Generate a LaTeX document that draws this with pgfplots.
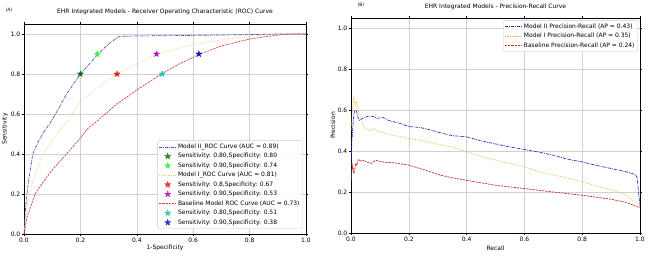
\documentclass[border=0pt]{standalone}
\usepackage{pgfplots}
\pgfplotsset{compat=1.18}
\usepackage{fontspec}
\setmainfont{DejaVu Sans}
\definecolor{rocblue}{HTML}{4556B0}
\definecolor{rocyel}{HTML}{F2CE86}
\definecolor{rocred}{HTML}{D2424F}
\definecolor{prblue}{HTML}{2B2BB5}
\definecolor{prorange}{HTML}{F0AE3C}
\definecolor{prred}{HTML}{C62A2A}
\definecolor{stdkgreen}{HTML}{0A6E0A}
\definecolor{stlime}{HTML}{33EE33}
\definecolor{stred}{HTML}{EE1111}
\definecolor{stmag}{HTML}{B010C0}
\definecolor{stcyan}{HTML}{20BFC0}
\definecolor{stblue}{HTML}{0A0ACC}
\pgfdeclareplotmark{fstar}{%
  \pgfpathmoveto{\pgfqpoint{0pt}{\pgfplotmarksize}}%
  \pgfpathlineto{\pgfqpoint{-0.2245\pgfplotmarksize}{0.309\pgfplotmarksize}}%
  \pgfpathlineto{\pgfqpoint{-0.951\pgfplotmarksize}{0.309\pgfplotmarksize}}%
  \pgfpathlineto{\pgfqpoint{-0.3633\pgfplotmarksize}{-0.118\pgfplotmarksize}}%
  \pgfpathlineto{\pgfqpoint{-0.588\pgfplotmarksize}{-0.809\pgfplotmarksize}}%
  \pgfpathlineto{\pgfqpoint{0pt}{-0.382\pgfplotmarksize}}%
  \pgfpathlineto{\pgfqpoint{0.588\pgfplotmarksize}{-0.809\pgfplotmarksize}}%
  \pgfpathlineto{\pgfqpoint{0.3633\pgfplotmarksize}{-0.118\pgfplotmarksize}}%
  \pgfpathlineto{\pgfqpoint{0.951\pgfplotmarksize}{0.309\pgfplotmarksize}}%
  \pgfpathlineto{\pgfqpoint{0.2245\pgfplotmarksize}{0.309\pgfplotmarksize}}%
  \pgfpathclose
  \pgfusepathqfillstroke}
\newcommand{\fs}{\fontsize{6}{7}\selectfont}
\tikzset{
  dd/.style={dash pattern=on 3pt off 1pt on 0.8pt off 1pt},
  dt/.style={dash pattern=on 0.7pt off 1pt},
  ds/.style={dash pattern=on 2.2pt off 1pt},
}
\pgfplotsset{
  common/.style={
    scale only axis, anchor=south west,
    xmin=0, xmax=1, ymin=0, ymax=1.05,
    xtick={0,0.2,...,1.0}, ytick={0,0.2,...,1.0},
    /pgf/number format/.cd, fixed, fixed zerofill, precision=1, assume math mode=true, /pgfplots/.cd,
    grid=major, major grid style={black!18, line width=0.5pt},
    axis line style={black, line width=0.5pt},
    tick align=outside, major tick length=2pt, tick style={black, line width=0.5pt},
    tick label style={font=\fs},
    every tick label/.append style={inner sep=1.5pt},
    label style={font=\fs},
    title style={font=\fs},
    legend cell align=left,
    legend style={font=\fs, draw=black!20, rounded corners=1.5pt, fill=white, fill opacity=0.85, text opacity=1,
      inner sep=1.2pt, row sep=-0.6pt, /tikz/every even column/.append style={column sep=2pt}},
  },
  ln/.style 2 args={line width=0.7pt, mark=none, draw=#1, #2,
    legend image code/.code={\draw[line width=0.7pt, draw=#1, #2, sharp corners] (0cm,0cm) -- (0.58cm,0cm);}},
  st/.style={only marks, mark=fstar, mark size=3.3pt, mark options={fill=#1, draw=#1, line width=0.2pt, solid}, color=#1},
}
\begin{document}
\begin{tikzpicture}
\useasboundingbox (0,0) rectangle (650pt,257pt);
\node[font=\fontsize{4.5}{5}\selectfont, anchor=west] at (2pt,247pt) {(A)};
\node[font=\fontsize{4.5}{5}\selectfont, anchor=west] at (354pt,252pt) {(B)};
\begin{axis}[common, at={(24pt,23pt)}, width=282pt, height=210pt,
  title={EHR Integrated Models  - Receiver Operating Characteristic (ROC) Curve},
  title style={at={(0.5,1)}, anchor=center, yshift=6pt},
  xlabel={1-Specificity}, ylabel={Sensitivity},
  xlabel style={at={(0.5,0)}, anchor=center, yshift=-14pt},
  ylabel style={at={([xshift=-19pt]axis description cs:0,0.5)}, anchor=center},
  legend style={at={(0.989,0.024)}, anchor=south east},
]
\addplot[ln={rocblue}{dd}] coordinates {(0,0) (0.005,0.12) (0.012,0.22) (0.02,0.30) (0.031,0.40) (0.05,0.46) (0.07,0.51) (0.095,0.56) (0.12,0.62) (0.151,0.70) (0.2,0.80) (0.263,0.90) (0.30,0.95) (0.337,0.988) (0.4,0.99) (0.6,0.993) (0.8,0.997) (0.9,1.0) (1,1)};
\addlegendentry{Model II\_ROC Curve (AUC = 0.89)}
\addplot[st=stdkgreen] coordinates {(0.20,0.80)};
\addlegendentry{Sensitivity: 0.80,Specificity: 0.80}
\addplot[st=stlime] coordinates {(0.26,0.90)};
\addlegendentry{Sensitivity: 0.90,Specificity: 0.74}
\addplot[ln={rocyel}{dt}] coordinates {(0,0) (0.005,0.08) (0.019,0.2) (0.04,0.3) (0.068,0.4) (0.1,0.47) (0.134,0.53) (0.157,0.57) (0.2,0.66) (0.25,0.72) (0.327,0.80) (0.4,0.85) (0.474,0.90) (0.55,0.93) (0.65,0.96) (0.75,0.98) (0.85,0.995) (0.92,1.0) (1,1)};
\addlegendentry{Model I\_ROC Curve (AUC = 0.81)}
\addplot[st=stred] coordinates {(0.33,0.80)};
\addlegendentry{Sensitivity: 0.8,Specificity: 0.67}
\addplot[st=stmag] coordinates {(0.47,0.90)};
\addlegendentry{Sensitivity: 0.90,Specificity: 0.53}
\addplot[ln={rocred}{ds}] coordinates {(0,0) (0.01,0.08) (0.039,0.2) (0.068,0.26) (0.1,0.32) (0.151,0.40) (0.2,0.48) (0.228,0.53) (0.264,0.57) (0.329,0.65) (0.4,0.72) (0.487,0.80) (0.55,0.85) (0.625,0.90) (0.7,0.94) (0.8,0.975) (0.9,0.995) (0.95,1.0) (1,1)};
\addlegendentry{Baseline Model ROC Curve (AUC = 0.73)}
\addplot[st=stcyan] coordinates {(0.49,0.80)};
\addlegendentry{Sensitivity: 0.80,Specificity: 0.51}
\addplot[st=stblue] coordinates {(0.62,0.90)};
\addlegendentry{Sensitivity: 0.90,Specificity: 0.38}
\end{axis}
\begin{axis}[common, at={(351pt,24pt)}, width=289pt, height=215pt,
  title={EHR Integrated Models - Precision-Recall Curve},
  title style={at={(0.5,1)}, anchor=center, yshift=5pt},
  xlabel={Recall}, ylabel={Precision},
  xlabel style={at={(0.5,0)}, anchor=center, yshift=-15pt},
  ylabel style={at={([xshift=-18pt]axis description cs:0,0.5)}, anchor=center},
  legend style={at={(0.993,0.99)}, anchor=north east},
]
\addplot[ln={prblue}{dd}] coordinates {(0,0.3) (0.003,0.45) (0.008,0.55) (0.012,0.6) (0.018,0.6) (0.025,0.56) (0.03,0.55) (0.045,0.565) (0.06,0.57) (0.077,0.57) (0.09,0.56) (0.11,0.565) (0.13,0.55) (0.17,0.535) (0.2,0.52) (0.24,0.515) (0.27,0.505) (0.308,0.49) (0.35,0.475) (0.4,0.47) (0.45,0.45) (0.5,0.435) (0.55,0.42) (0.6,0.408) (0.65,0.395) (0.7,0.38) (0.75,0.36) (0.8,0.347) (0.85,0.33) (0.9,0.315) (0.95,0.30) (0.985,0.285) (0.99,0.27) (1.0,0.13)};
\addlegendentry{Model II Precision-Recall (AP = 0.43)}
\addplot[ln={prorange}{dt}] coordinates {(0,0.5) (0.005,0.6) (0.01,0.66) (0.015,0.63) (0.02,0.64) (0.025,0.6) (0.03,0.58) (0.035,0.55) (0.04,0.53) (0.05,0.51) (0.065,0.50) (0.077,0.51) (0.09,0.50) (0.1,0.495) (0.135,0.48) (0.2,0.462) (0.25,0.45) (0.31,0.43) (0.35,0.42) (0.4,0.397) (0.45,0.375) (0.5,0.356) (0.55,0.34) (0.6,0.323) (0.65,0.30) (0.73,0.274) (0.8,0.25) (0.85,0.23) (0.91,0.208) (0.95,0.185) (1.0,0.135) (1.0,0.12)};
\addlegendentry{Model I Precision-Recall (AP = 0.35)}
\addplot[ln={prred}{ds}] coordinates {(0,0.25) (0.003,0.3) (0.006,0.33) (0.01,0.29) (0.013,0.31) (0.016,0.34) (0.02,0.33) (0.025,0.36) (0.035,0.35) (0.045,0.355) (0.055,0.345) (0.07,0.34) (0.085,0.355) (0.1,0.35) (0.12,0.345) (0.15,0.343) (0.2,0.331) (0.25,0.31) (0.31,0.282) (0.35,0.27) (0.4,0.257) (0.45,0.245) (0.5,0.233) (0.6,0.217) (0.7,0.2) (0.8,0.184) (0.9,0.165) (0.95,0.15) (1.0,0.123)};
\addlegendentry{Baseline Precision-Recall (AP = 0.24)}
\end{axis}
\end{tikzpicture}
\end{document}
